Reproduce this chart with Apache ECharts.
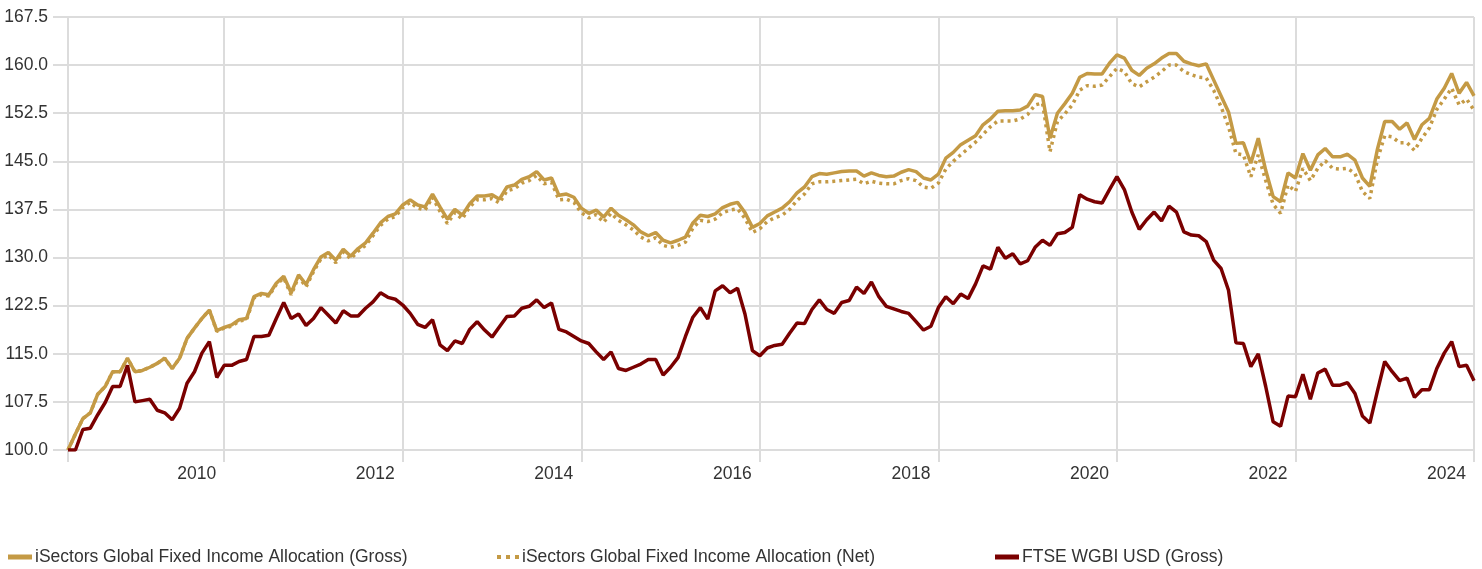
<!DOCTYPE html>
<html>
<head>
<meta charset="utf-8">
<script src="https://cdn.jsdelivr.net/npm/echarts@6/dist/echarts.min.js"></script>
<style>
html,body{margin:0;padding:0;background:#fff;overflow:hidden;}
#chart{width:1482px;height:569px;}
</style>
</head>
<body>
<div id="chart"></div>
<script>
// Monthly observations, April 2008 .. January 2024
const startYear = 2008, startMonth = 4, monthCount = 190;
const categories = [];
for (let i = 0; i < monthCount; i++) {
  const m = startMonth - 1 + i;
  const y = startYear + Math.floor(m / 12);
  const mm = (m % 12) + 1;
  categories.push(y + '-' + (mm < 10 ? '0' + mm : mm));
}
const yearTicks = ['2010','2012','2014','2016','2018','2020','2022','2024'];

const seriesNames = [
  'iSectors Global Fixed Income Allocation (Gross)',
  'iSectors Global Fixed Income Allocation (Net)',
  'FTSE WGBI USD (Gross)'
];

const grossValues = [
100.0,102.5,104.9,105.8,108.7,109.9,112.2,112.2,114.3,112.2,
112.4,112.9,113.5,114.3,112.7,114.3,117.4,119.0,120.5,121.8,
118.6,119.1,119.5,120.3,120.5,123.9,124.4,124.2,126.0,127.1,
124.5,127.3,125.8,128.1,130.1,130.8,129.6,131.3,130.2,131.4,
132.3,133.8,135.4,136.4,136.8,138.2,139.0,138.2,137.9,139.9,
137.9,136.0,137.5,136.6,138.4,139.6,139.6,139.8,139.1,141.0,
141.3,142.2,142.6,143.4,142.1,142.4,139.7,139.9,139.4,137.7,
136.9,137.4,136.3,137.7,136.6,135.9,135.1,134.0,133.4,133.9,
132.7,132.3,132.7,133.2,135.4,136.6,136.4,136.8,137.8,138.3,
138.6,137.0,134.7,135.3,136.5,137.1,137.7,138.7,140.1,141.0,
142.6,143.1,143.0,143.2,143.4,143.5,143.5,142.7,143.2,142.8,
142.6,142.7,143.3,143.7,143.4,142.4,142.1,143.0,145.5,146.4,
147.6,148.3,149.0,150.7,151.6,152.8,152.9,152.9,153.0,153.6,
155.4,155.1,148.6,152.5,154.0,155.6,158.1,158.7,158.6,158.6,
160.3,161.6,161.1,159.2,158.4,159.5,160.2,161.1,161.8,161.8,
160.6,160.2,159.9,160.2,157.7,155.2,152.7,147.8,147.9,144.7,
148.6,143.6,139.5,138.7,143.2,142.4,146.2,143.6,146.0,147.0,
145.7,145.7,146.1,145.2,142.4,141.1,146.8,151.2,151.2,150.0,
151.0,148.4,150.7,151.7,154.7,156.4,158.7,155.6,157.3,155.2
];

const netValues = [
100.0,102.5,104.9,105.8,108.7,109.9,112.2,112.2,114.3,112.2,
112.4,112.9,113.5,114.3,112.7,114.3,117.4,119.0,120.5,121.8,
118.5,119.0,119.3,120.1,120.3,123.7,124.2,124.0,125.8,126.8,
124.2,127.0,125.4,127.8,129.8,130.4,129.2,130.9,129.8,131.0,
131.9,133.4,135.0,136.0,136.4,137.8,138.6,137.7,137.4,139.4,
137.2,135.3,137.0,136.0,137.9,139.0,139.0,139.2,138.5,140.4,
140.7,141.6,142.0,142.8,141.5,141.7,139.0,139.1,138.6,137.0,
136.2,136.7,135.5,136.9,135.8,135.1,134.3,133.2,132.6,133.1,
131.9,131.6,131.9,132.4,134.6,135.8,135.6,136.0,137.0,137.4,
137.6,136.1,133.9,134.5,135.6,136.2,136.6,137.5,138.9,139.9,
141.5,141.8,141.8,141.9,142.0,142.1,142.2,141.5,141.9,141.6,
141.5,141.5,142.0,142.3,142.0,141.0,140.8,141.6,143.8,145.0,
146.0,147.0,148.0,149.2,150.4,151.3,151.3,151.3,151.6,152.3,
153.8,154.1,146.5,151.2,152.4,153.8,156.1,156.8,156.7,156.9,
158.2,159.5,159.0,157.1,156.6,157.4,158.1,159.0,160.0,160.0,
159.0,158.5,158.1,158.0,156.1,153.5,150.4,146.2,146.0,142.6,
146.0,142.0,138.3,136.9,141.3,140.3,143.9,142.0,143.9,145.1,
143.9,143.8,143.9,143.1,140.3,139.2,145.2,149.0,148.8,147.9,
147.9,146.7,148.6,150.2,153.1,154.7,156.4,153.8,154.7,153.0
];

const wgbiValues = [
100.0,100.0,103.2,103.4,105.5,107.4,109.9,109.9,113.2,107.5,
107.7,107.9,106.2,105.8,104.7,106.5,110.4,112.2,115.1,116.9,
111.3,113.2,113.2,113.8,114.1,117.7,117.7,117.9,120.5,123.0,
120.5,121.2,119.4,120.5,122.2,121.0,119.8,121.7,120.9,120.9,
122.1,123.1,124.5,123.8,123.5,122.6,121.3,119.6,119.1,120.3,
116.4,115.5,117.0,116.6,118.8,120.0,118.7,117.6,119.2,120.8,
120.9,122.1,122.4,123.4,122.2,122.9,118.8,118.4,117.7,117.0,
116.6,115.3,114.1,115.3,112.7,112.4,112.9,113.4,114.1,114.1,
111.7,112.9,114.4,117.7,120.7,122.2,120.4,124.8,125.6,124.5,
125.2,121.2,115.5,114.7,115.9,116.3,116.5,118.2,119.8,119.7,
121.9,123.4,121.9,121.3,123.0,123.3,125.4,124.4,126.2,123.9,
122.4,122.0,121.6,121.3,120.0,118.7,119.3,122.2,123.9,122.8,
124.3,123.6,125.9,128.7,128.2,131.6,129.9,130.6,129.0,129.5,
131.6,132.7,131.9,133.7,133.9,134.7,139.8,139.1,138.7,138.5,
140.6,142.6,140.6,137.1,134.4,135.9,137.1,135.7,138.0,137.1,
134.0,133.5,133.4,132.5,129.6,128.3,124.9,116.7,116.6,113.0,
115.0,109.9,104.4,103.7,108.4,108.3,111.8,107.9,112.0,112.6,
110.1,110.1,110.5,108.8,105.3,104.2,109.1,113.8,112.2,110.8,
111.2,108.2,109.4,109.4,112.7,115.1,116.9,113.0,113.2,110.8
];

const GOLD = '#C49A45';
const RED = '#7A0000';
const GRID = '#DCDCDC';
const FONT = '"Liberation Sans", Arial, sans-serif';
const TEXT = '#333333';
const FS = 17.5;

function isYearTick(idx) {
  const v = categories[idx];
  return v.slice(5) === '01' && yearTicks.indexOf(v.slice(0, 4)) >= 0;
}

const chart = echarts.init(document.getElementById('chart'), null, {renderer: 'canvas'});
const legendText = {fontFamily: FONT, fontSize: FS, color: TEXT, padding: [0, 0, 0, -2]};
const dotsIcon = 'path://M0,0h4v4h-4zM9,0h4v4h-4zM18,0h4v4h-4z';
chart.setOption({
  animation: false,
  backgroundColor: '#fff',
  grid: {left: 68, right: 8, top: 17, bottom: 119, containLabel: false, outerBoundsMode: 'none'},
  legend: [
    {data: [{name: seriesNames[0], icon: 'rect'}], left: 3, top: 543, itemWidth: 24, itemHeight: 5, textStyle: legendText},
    {data: [{name: seriesNames[1], icon: dotsIcon}], left: 492, top: 543, itemWidth: 22, itemHeight: 4, textStyle: legendText},
    {data: [{name: seriesNames[2], icon: 'rect'}], left: 990, top: 543, itemWidth: 24, itemHeight: 5, textStyle: legendText}
  ],
  xAxis: {
    type: 'category',
    data: categories,
    boundaryGap: false,
    axisLine: {show: false},
    axisTick: {show: true, length: 12, lineStyle: {color: GRID, width: 2},
      interval: function (idx) { return idx === 0 || isYearTick(idx); }},
    axisLabel: {
      interval: function (idx) { return isYearTick(idx); },
      formatter: function (v) { return v.slice(0, 4); },
      align: 'right', padding: [0, 8, 0, 0],
      fontFamily: FONT, fontSize: FS, color: TEXT, margin: 15
    },
    splitLine: {show: true, lineStyle: {color: GRID, width: 2},
      interval: function (idx) { return idx === 0 || isYearTick(idx); }}
  },
  yAxis: {
    type: 'value',
    min: 100, max: 167.5, interval: 7.5,
    axisLine: {show: false},
    axisTick: {show: true, length: 15, lineStyle: {color: GRID, width: 2}},
    axisLabel: {formatter: function (v) { return v.toFixed(1); },
      fontFamily: FONT, fontSize: FS, color: TEXT, margin: 20},
    splitLine: {show: true, lineStyle: {color: GRID, width: 2}}
  },
  series: [
    {name: seriesNames[0], type: 'line', data: grossValues, showSymbol: false, symbol: 'none',
      itemStyle: {color: GOLD}, lineStyle: {color: GOLD, width: 3.5}, z: 3},
    {name: seriesNames[1], type: 'line', data: netValues, showSymbol: false, symbol: 'none',
      itemStyle: {color: GOLD}, lineStyle: {color: GOLD, width: 3.5, type: [3, 4]}, z: 2},
    {name: seriesNames[2], type: 'line', data: wgbiValues, showSymbol: false, symbol: 'none',
      itemStyle: {color: RED}, lineStyle: {color: RED, width: 3.5}, z: 4}
  ]
});
</script>
</body>
</html>
